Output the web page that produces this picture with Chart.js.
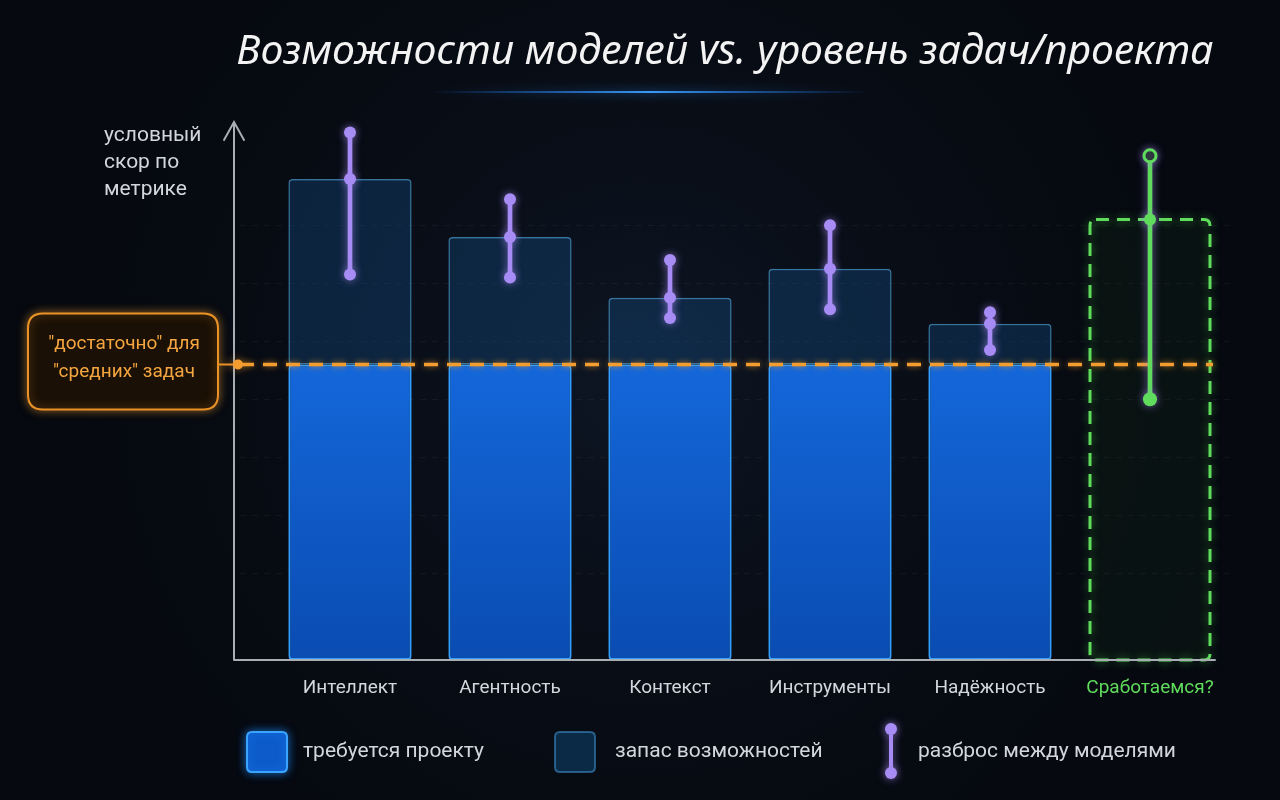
<!DOCTYPE html>
<html>
<head>
<meta charset="utf-8">
<title>Возможности моделей vs. уровень задач/проекта</title>
<script src="https://cdn.jsdelivr.net/npm/chart.js@4/dist/chart.umd.min.js"></script>
<style>
  html, body { margin: 0; padding: 0; background: #060910; }
  canvas { display: block; }
</style>
</head>
<body>
<canvas id="chart" width="1280" height="800"></canvas>
<script>
// categories and values (conditional score units)
var categories = ['Интеллект', 'Агентность', 'Контекст', 'Инструменты', 'Надёжность', 'Сработаемся?'];
var requiredLevel = 51;                       // "достаточно" для "средних" задач
var requiredValues = [51, 51, 51, 51, 51, null];
var capabilityValues = [83, 73, 62.5, 67.5, 58, null];
var teamValues = [null, null, null, null, null, 76];
var spreadLow = [66.5, 66, 59, 60.5, 53.5, 45];
var spreadMid = [83, 73, 62.5, 67.5, 58, 76];
var spreadHigh = [91, 79.5, 69, 75, 60, 87];
var gridTicks = [15, 25, 35, 45, 55, 65, 75];
var legendLabels = ['требуется проекту', 'запас возможностей', 'разброс между моделями'];

var PURPLE = '#a88cf5';
var GREEN = '#5fdc5c';
var ORANGE = '#f39c2f';
var TEXT = '#d3d7dd';

Chart.defaults.font.family = 'Roboto, "Noto Sans", sans-serif';

function rangeOf(lo, hi) {
  return lo.map(function (v, i) {
    if (v == null || hi[i] == null) return null;
    return [v, hi[i]];
  });
}
var zeros = categories.map(function () { return 0; });
var thresholds = categories.map(function () { return requiredLevel; });

function colorsFor(main, last) {
  return categories.map(function (c, i) { return i === categories.length - 1 ? last : main; });
}

function roundRect(ctx, x, y, w, h, r) {
  ctx.beginPath();
  ctx.moveTo(x + r, y);
  ctx.lineTo(x + w - r, y);
  ctx.quadraticCurveTo(x + w, y, x + w, y + r);
  ctx.lineTo(x + w, y + h - r);
  ctx.quadraticCurveTo(x + w, y + h, x + w - r, y + h);
  ctx.lineTo(x + r, y + h);
  ctx.quadraticCurveTo(x, y + h, x, y + h - r);
  ctx.lineTo(x, y + r);
  ctx.quadraticCurveTo(x, y, x + r, y);
  ctx.closePath();
}

// background, title, axis, callout box and legend
var decor = {
  id: 'decor',
  beforeDraw: function (chart) {
    var ctx = chart.ctx;
    ctx.save();
    ctx.fillStyle = '#060910';
    ctx.fillRect(0, 0, chart.width, chart.height);
    var g = ctx.createRadialGradient(640, 380, 50, 640, 380, 800);
    g.addColorStop(0, 'rgba(18,30,48,0.55)');
    g.addColorStop(1, 'rgba(0,0,0,0)');
    ctx.fillStyle = g;
    ctx.fillRect(0, 0, chart.width, chart.height);

    // title
    ctx.fillStyle = '#f3f3f3';
    ctx.font = 'italic 41px "Noto Sans", sans-serif';
    ctx.textAlign = 'center';
    ctx.textBaseline = 'middle';
    ctx.fillText('Возможности моделей vs. уровень задач/проекта', 725, 52);

    // glow line under title
    var lg = ctx.createLinearGradient(430, 0, 870, 0);
    lg.addColorStop(0, 'rgba(30,120,255,0)');
    lg.addColorStop(0.5, 'rgba(60,160,255,0.95)');
    lg.addColorStop(1, 'rgba(30,120,255,0)');
    ctx.strokeStyle = lg;
    ctx.lineWidth = 2;
    ctx.shadowColor = 'rgba(40,140,255,0.9)';
    ctx.shadowBlur = 10;
    ctx.beginPath();
    ctx.moveTo(430, 92);
    ctx.lineTo(870, 92);
    ctx.stroke();
    ctx.shadowBlur = 0;

    // y axis label
    ctx.fillStyle = TEXT;
    ctx.font = '21px Roboto, "Noto Sans", sans-serif';
    ctx.textAlign = 'left';
    ctx.fillText('условный', 104, 136);
    ctx.fillText('скор по', 104, 163);
    ctx.fillText('метрике', 104, 190);

    // faint dashed grid
    var y = chart.scales.y;
    ctx.strokeStyle = 'rgba(255,255,255,0.045)';
    ctx.lineWidth = 1;
    ctx.setLineDash([6, 6]);
    gridTicks.forEach(function (t) {
      var py = Math.round(y.getPixelForValue(t)) + 0.5;
      ctx.beginPath();
      ctx.moveTo(240, py);
      ctx.lineTo(chart.chartArea.right, py);
      ctx.stroke();
    });
    ctx.restore();
  },
  beforeDatasetDraw: function (chart, args) {
    var ds = chart.data.datasets[args.index];
    var ctx = chart.ctx;
    if (ds.thresholdBefore) {
      var py = chart.scales.y.getPixelForValue(requiredLevel);
      ctx.save();
      ctx.strokeStyle = ORANGE;
      ctx.lineWidth = 3.5;
      ctx.setLineDash([14, 9]);
      ctx.shadowColor = 'rgba(243,156,47,0.7)';
      ctx.shadowBlur = 6;
      ctx.beginPath();
      ctx.moveTo(240, py);
      ctx.lineTo(chart.chartArea.right - 17, py);
      ctx.stroke();
      ctx.restore();
    }
    if (ds.glow) {
      ctx.save();
      ctx.shadowColor = ds.glow;
      ctx.shadowBlur = ds.glowBlur || 12;
    }
  },
  afterDatasetDraw: function (chart, args) {
    var ds = chart.data.datasets[args.index];
    var ctx = chart.ctx;
    if (ds.glow) ctx.restore();
    if (ds.dashedBox) {
      var meta = chart.getDatasetMeta(args.index);
      meta.data.forEach(function (el, i) {
        if (ds.data[i] == null) return;
        var w = el.width, x = el.x - w / 2;
        ctx.save();
        ctx.strokeStyle = GREEN;
        ctx.lineWidth = 3;
        ctx.setLineDash([13, 8]);
        ctx.shadowColor = 'rgba(80,220,80,0.6)';
        ctx.shadowBlur = 8;
        roundRect(ctx, x, el.y, w, el.base - el.y, 6);
        ctx.stroke();
        ctx.restore();
      });
    }
  },
  afterDraw: function (chart) {
    var ctx = chart.ctx;
    var base = chart.scales.y.getPixelForValue(0);
    var top = chart.chartArea.top;
    ctx.save();
    // axes
    ctx.strokeStyle = '#a9aeb5';
    ctx.lineWidth = 2;
    ctx.lineCap = 'round';
    ctx.beginPath();
    ctx.moveTo(234, base);
    ctx.lineTo(234, top + 1);
    ctx.moveTo(224, top + 19);
    ctx.lineTo(234, top + 1);
    ctx.lineTo(244, top + 19);
    ctx.moveTo(234, base);
    ctx.lineTo(chart.chartArea.right - 15, base);
    ctx.stroke();

    // callout box for required level
    var py = chart.scales.y.getPixelForValue(requiredLevel);
    ctx.shadowColor = 'rgba(243,156,47,0.55)';
    ctx.shadowBlur = 10;
    ctx.fillStyle = '#1a1005';
    ctx.strokeStyle = '#ea9226';
    ctx.lineWidth = 2;
    roundRect(ctx, 28, py - 51, 190, 96, 15);
    ctx.fill();
    ctx.stroke();
    ctx.beginPath();
    ctx.moveTo(218, py);
    ctx.lineTo(238, py);
    ctx.stroke();
    ctx.fillStyle = ORANGE;
    ctx.beginPath();
    ctx.arc(238, py, 5, 0, Math.PI * 2);
    ctx.fill();
    ctx.shadowBlur = 0;
    ctx.fillStyle = '#f6a640';
    ctx.font = '19px Roboto, "Noto Sans", sans-serif';
    ctx.textAlign = 'center';
    ctx.textBaseline = 'middle';
    ctx.fillText('"достаточно" для', 124, py - 20);
    ctx.fillText('"средних" задач', 124, py + 8);

    // legend
    var ly = 752;
    ctx.shadowColor = 'rgba(30,140,255,0.7)';
    ctx.shadowBlur = 10;
    ctx.fillStyle = '#0d5bca';
    ctx.strokeStyle = '#3ba4ff';
    ctx.lineWidth = 2;
    roundRect(ctx, 247, ly - 20, 40, 40, 5);
    ctx.fill();
    ctx.stroke();
    ctx.shadowBlur = 0;
    ctx.fillStyle = '#0b2a45';
    ctx.strokeStyle = 'rgba(60,140,200,0.6)';
    roundRect(ctx, 555, ly - 20, 40, 40, 5);
    ctx.fill();
    ctx.stroke();
    ctx.shadowColor = 'rgba(168,140,245,0.7)';
    ctx.shadowBlur = 8;
    ctx.strokeStyle = PURPLE;
    ctx.lineWidth = 4;
    ctx.beginPath();
    ctx.moveTo(891, ly - 23);
    ctx.lineTo(891, ly + 21);
    ctx.stroke();
    ctx.fillStyle = PURPLE;
    [ly - 23, ly + 21].forEach(function (cy) {
      ctx.beginPath();
      ctx.arc(891, cy, 6, 0, Math.PI * 2);
      ctx.fill();
    });
    ctx.shadowBlur = 0;
    ctx.fillStyle = TEXT;
    ctx.font = '21px Roboto, "Noto Sans", sans-serif';
    ctx.textAlign = 'left';
    ctx.fillText(legendLabels[0], 303, ly);
    ctx.fillText(legendLabels[1], 615, ly);
    ctx.fillText(legendLabels[2], 918, ly);
    ctx.restore();
  }
};

var ctx = document.getElementById('chart').getContext('2d');

function requiredFill(c) {
  var area = c.chart.chartArea;
  if (!area) return '#0d5bca';
  var y = c.chart.scales.y;
  var g = c.chart.ctx.createLinearGradient(0, y.getPixelForValue(requiredLevel), 0, y.getPixelForValue(0));
  g.addColorStop(0, '#1467da');
  g.addColorStop(1, '#0a4cb2');
  return g;
}

var chart = new Chart(ctx, {
  type: 'bar',
  data: {
    labels: categories,
    datasets: [
      {
        type: 'line',
        label: 'high',
        data: spreadHigh,
        showLine: false,
        pointRadius: 6,
        pointBorderWidth: colorsFor(0, 3),
        pointBackgroundColor: colorsFor(PURPLE, '#0d1f0d'),
        pointBorderColor: colorsFor(PURPLE, GREEN),
        glow: 'rgba(168,140,245,0.6)',
        glowBlur: 8,
        order: 1
      },
      {
        type: 'line',
        label: 'mid',
        data: spreadMid,
        showLine: false,
        pointRadius: 6,
        pointBorderWidth: 0,
        pointBackgroundColor: colorsFor(PURPLE, GREEN),
        glow: 'rgba(168,140,245,0.6)',
        glowBlur: 8,
        order: 1
      },
      {
        type: 'line',
        label: 'low',
        data: spreadLow,
        showLine: false,
        pointRadius: colorsFor(6, 7),
        pointBorderWidth: 0,
        pointBackgroundColor: colorsFor(PURPLE, GREEN),
        glow: 'rgba(168,140,245,0.6)',
        glowBlur: 8,
        order: 1
      },
      {
        label: legendLabels[2],
        data: rangeOf(spreadLow, spreadHigh),
        grouped: false,
        barThickness: 4,
        backgroundColor: colorsFor(PURPLE, GREEN),
        borderWidth: 0,
        glow: 'rgba(168,140,245,0.7)',
        glowBlur: 8,
        thresholdBefore: true,
        order: 3
      },
      {
        label: 'Сработаемся?',
        data: rangeOf(zeros, teamValues),
        grouped: false,
        barPercentage: 0.75,
        categoryPercentage: 1,
        backgroundColor: 'rgba(30,90,30,0.12)',
        borderWidth: 0,
        dashedBox: true,
        order: 5
      },
      {
        label: legendLabels[1],
        data: rangeOf(thresholds, capabilityValues),
        grouped: false,
        barPercentage: 0.77,
        categoryPercentage: 1,
        backgroundColor: 'rgba(20,85,145,0.33)',
        borderColor: 'rgba(80,170,230,0.65)',
        borderWidth: 1.5,
        borderRadius: 4,
        borderSkipped: false,
        order: 6
      },
      {
        label: legendLabels[0],
        data: rangeOf(zeros, requiredValues),
        grouped: false,
        barPercentage: 0.77,
        categoryPercentage: 1,
        backgroundColor: requiredFill,
        borderColor: '#3aa4ff',
        borderWidth: 2,
        borderRadius: 4,
        borderSkipped: false,
        glow: 'rgba(30,140,255,0.55)',
        glowBlur: 18,
        order: 7
      }
    ]
  },
  options: {
    responsive: false,
    animation: false,
    layout: { padding: { left: 270, right: 50, top: 121, bottom: 0 } },
    plugins: {
      legend: { display: false },
      tooltip: { enabled: false },
      title: { display: false }
    },
    scales: {
      x: {
        offset: true,
        grid: { display: false, drawTicks: false },
        border: { display: false },
        ticks: {
          padding: 17,
          color: function (c) { return c.index === categories.length - 1 ? GREEN : TEXT; },
          font: { size: 19 }
        },
        afterFit: function (s) { s.height = 140; }
      },
      y: {
        display: false,
        min: 0,
        max: 93
      }
    }
  },
  plugins: [decor]
});
</script>
</body>
</html>
